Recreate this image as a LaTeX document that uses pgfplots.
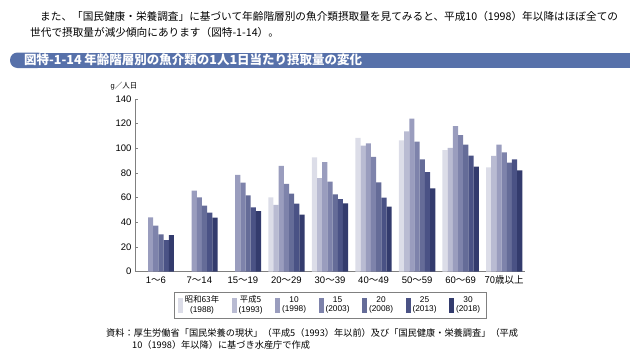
\documentclass[border=0pt]{standalone}
\usepackage{pgfplots}
\pgfplotsset{compat=1.18}
\usepackage{fontspec}
\setmainfont{Liberation Sans}
\newfontfamily\cjk{Noto Sans CJK JP}
\definecolor{c88}{HTML}{DCDDE8}
\definecolor{c93}{HTML}{B9BBD2}
\definecolor{c98}{HTML}{9A9DBE}
\definecolor{c03}{HTML}{7E83AB}
\definecolor{c08}{HTML}{656C98}
\definecolor{c13}{HTML}{4A5285}
\definecolor{c18}{HTML}{333B6D}
\definecolor{titlebar}{HTML}{5771AA}
\definecolor{axgray}{HTML}{808080}
\pgfplotsset{swatch/.style={legend image code/.code={\fill[##1,draw=none] (0pt,-7.5pt) rectangle (5pt,7.5pt);}}}
\begin{document}
\begin{tikzpicture}[x=1pt,y=1pt]
\useasboundingbox (0,0) rectangle (640,360);
% body text
\node[anchor=west,inner sep=0pt,font=\cjk\fontsize{10.65}{12}\selectfont] at (40,343.3) {また、「国民健康・栄養調査」に基づいて年齢階層別の魚介類摂取量を見てみると、平成10（1998）年以降はほぼ全ての};
\node[anchor=west,inner sep=0pt,font=\cjk\fontsize{10.65}{12}\selectfont] at (30,327.3) {世代で摂取量が減少傾向にあります（図特-1-14）。};
% title bar
\fill[titlebar,rounded corners=7.5pt] (10,292) rectangle (45,307.5);
\fill[titlebar] (25,292) rectangle (630,307.5);
\node[anchor=west,inner sep=0pt,text=white,font=\cjk\bfseries\fontsize{12.5}{14}\selectfont] at (24,299.8) {図特-1-14 年齢階層別の魚介類の1人1日当たり摂取量の変化};
% source
\node[anchor=west,inner sep=0pt,font=\cjk\fontsize{9.2}{11}\selectfont] at (106,27) {資料：厚生労働省「国民栄養の現状」（平成5（1993）年以前）及び「国民健康・栄養調査」（平成};
\node[anchor=west,inner sep=0pt,font=\cjk\fontsize{9.2}{11}\selectfont] at (132,15) {10（1998）年以降）に基づき水産庁で作成};
% unit label
\node[anchor=south,inner sep=0pt,font=\fontsize{7.5}{9}\selectfont] at (124,269.5) {g{\cjk ／人日}};
\begin{axis}[
  at={(135pt,88.3pt)}, anchor=south west,
  scale only axis, width=390pt, height=172.7pt,
  ybar=0pt, bar width=5.19pt,
  xmin=-0.478, xmax=8.478, ymin=0, ymax=140,
  axis x line*=bottom, axis y line*=left,
  axis line style={axgray, line width=0.6pt},
  x axis line style={-}, y axis line style={-},
  ytick={0,20,...,140},
  xtick={0,...,8},
  xticklabels={1{\cjk ～}6,7{\cjk ～}14,15{\cjk ～}19,20{\cjk ～}29,30{\cjk ～}39,40{\cjk ～}49,50{\cjk ～}59,60{\cjk ～}69,{\cjk 70歳以上}},
  x tick style={draw=none},
  y tick style={axgray, line width=0.6pt},
  tick align=inside, major tick length=3pt,
  ticklabel style={font=\fontsize{9.5}{11}\selectfont},
  /pgf/number format/assume math mode=true,
  xticklabel style={anchor=base, yshift=-12pt},
  legend style={at={(0.5,-0.193)}, anchor=center, draw=axgray, line width=0.6pt,
    font=\fontsize{8.3}{9}\selectfont, legend columns=7,
    /tikz/every even column/.append style={column sep=10.5pt},
    inner xsep=4pt, inner ysep=2pt},
  legend cell align=center,
]
\addplot[fill=c88,draw=none,swatch] coordinates {(3,60.3) (4,92.7) (5,108.4) (6,106.5) (7,98.6) (8,84.6)};
\addplot[fill=c93,draw=none,swatch] coordinates {(3,54.1) (4,75.9) (5,102.2) (6,113.8) (7,100.3) (8,93.8)};
\addplot[fill=c98,draw=none,swatch] coordinates {(0,44) (1,65.7) (2,78.4) (3,85.7) (4,88.9) (5,104.1) (6,124.1) (7,118.1) (8,103.0)};
\addplot[fill=c03,draw=none,swatch] coordinates {(0,37.3) (1,60.3) (2,72.2) (3,71.1) (4,73.0) (5,93.0) (6,105.4) (7,110.8) (8,96.8)};
\addplot[fill=c08,draw=none,swatch] coordinates {(0,30.3) (1,53.5) (2,61.9) (3,63.2) (4,62.7) (5,72.4) (6,91.1) (7,103.0) (8,88.4)};
\addplot[fill=c13,draw=none,swatch] coordinates {(0,25.7) (1,47.8) (2,52.2) (3,55.1) (4,58.9) (5,60.0) (6,80.8) (7,94.1) (8,91.1)};
\addplot[fill=c18,draw=none,swatch] coordinates {(0,29.7) (1,43.8) (2,49.2) (3,46.2) (4,55.4) (5,52.7) (6,67.6) (7,85.1) (8,82.2)};
\addlegendentry{\shortstack{{\cjk 昭和63年}\\(1988)}}
\addlegendentry{\shortstack{{\cjk 平成5}\\(1993)}}
\addlegendentry{\shortstack{10\\(1998)}}
\addlegendentry{\shortstack{15\\(2003)}}
\addlegendentry{\shortstack{20\\(2008)}}
\addlegendentry{\shortstack{25\\(2013)}}
\addlegendentry{\shortstack{30\\(2018)}}
\end{axis}
\end{tikzpicture}
\end{document}
